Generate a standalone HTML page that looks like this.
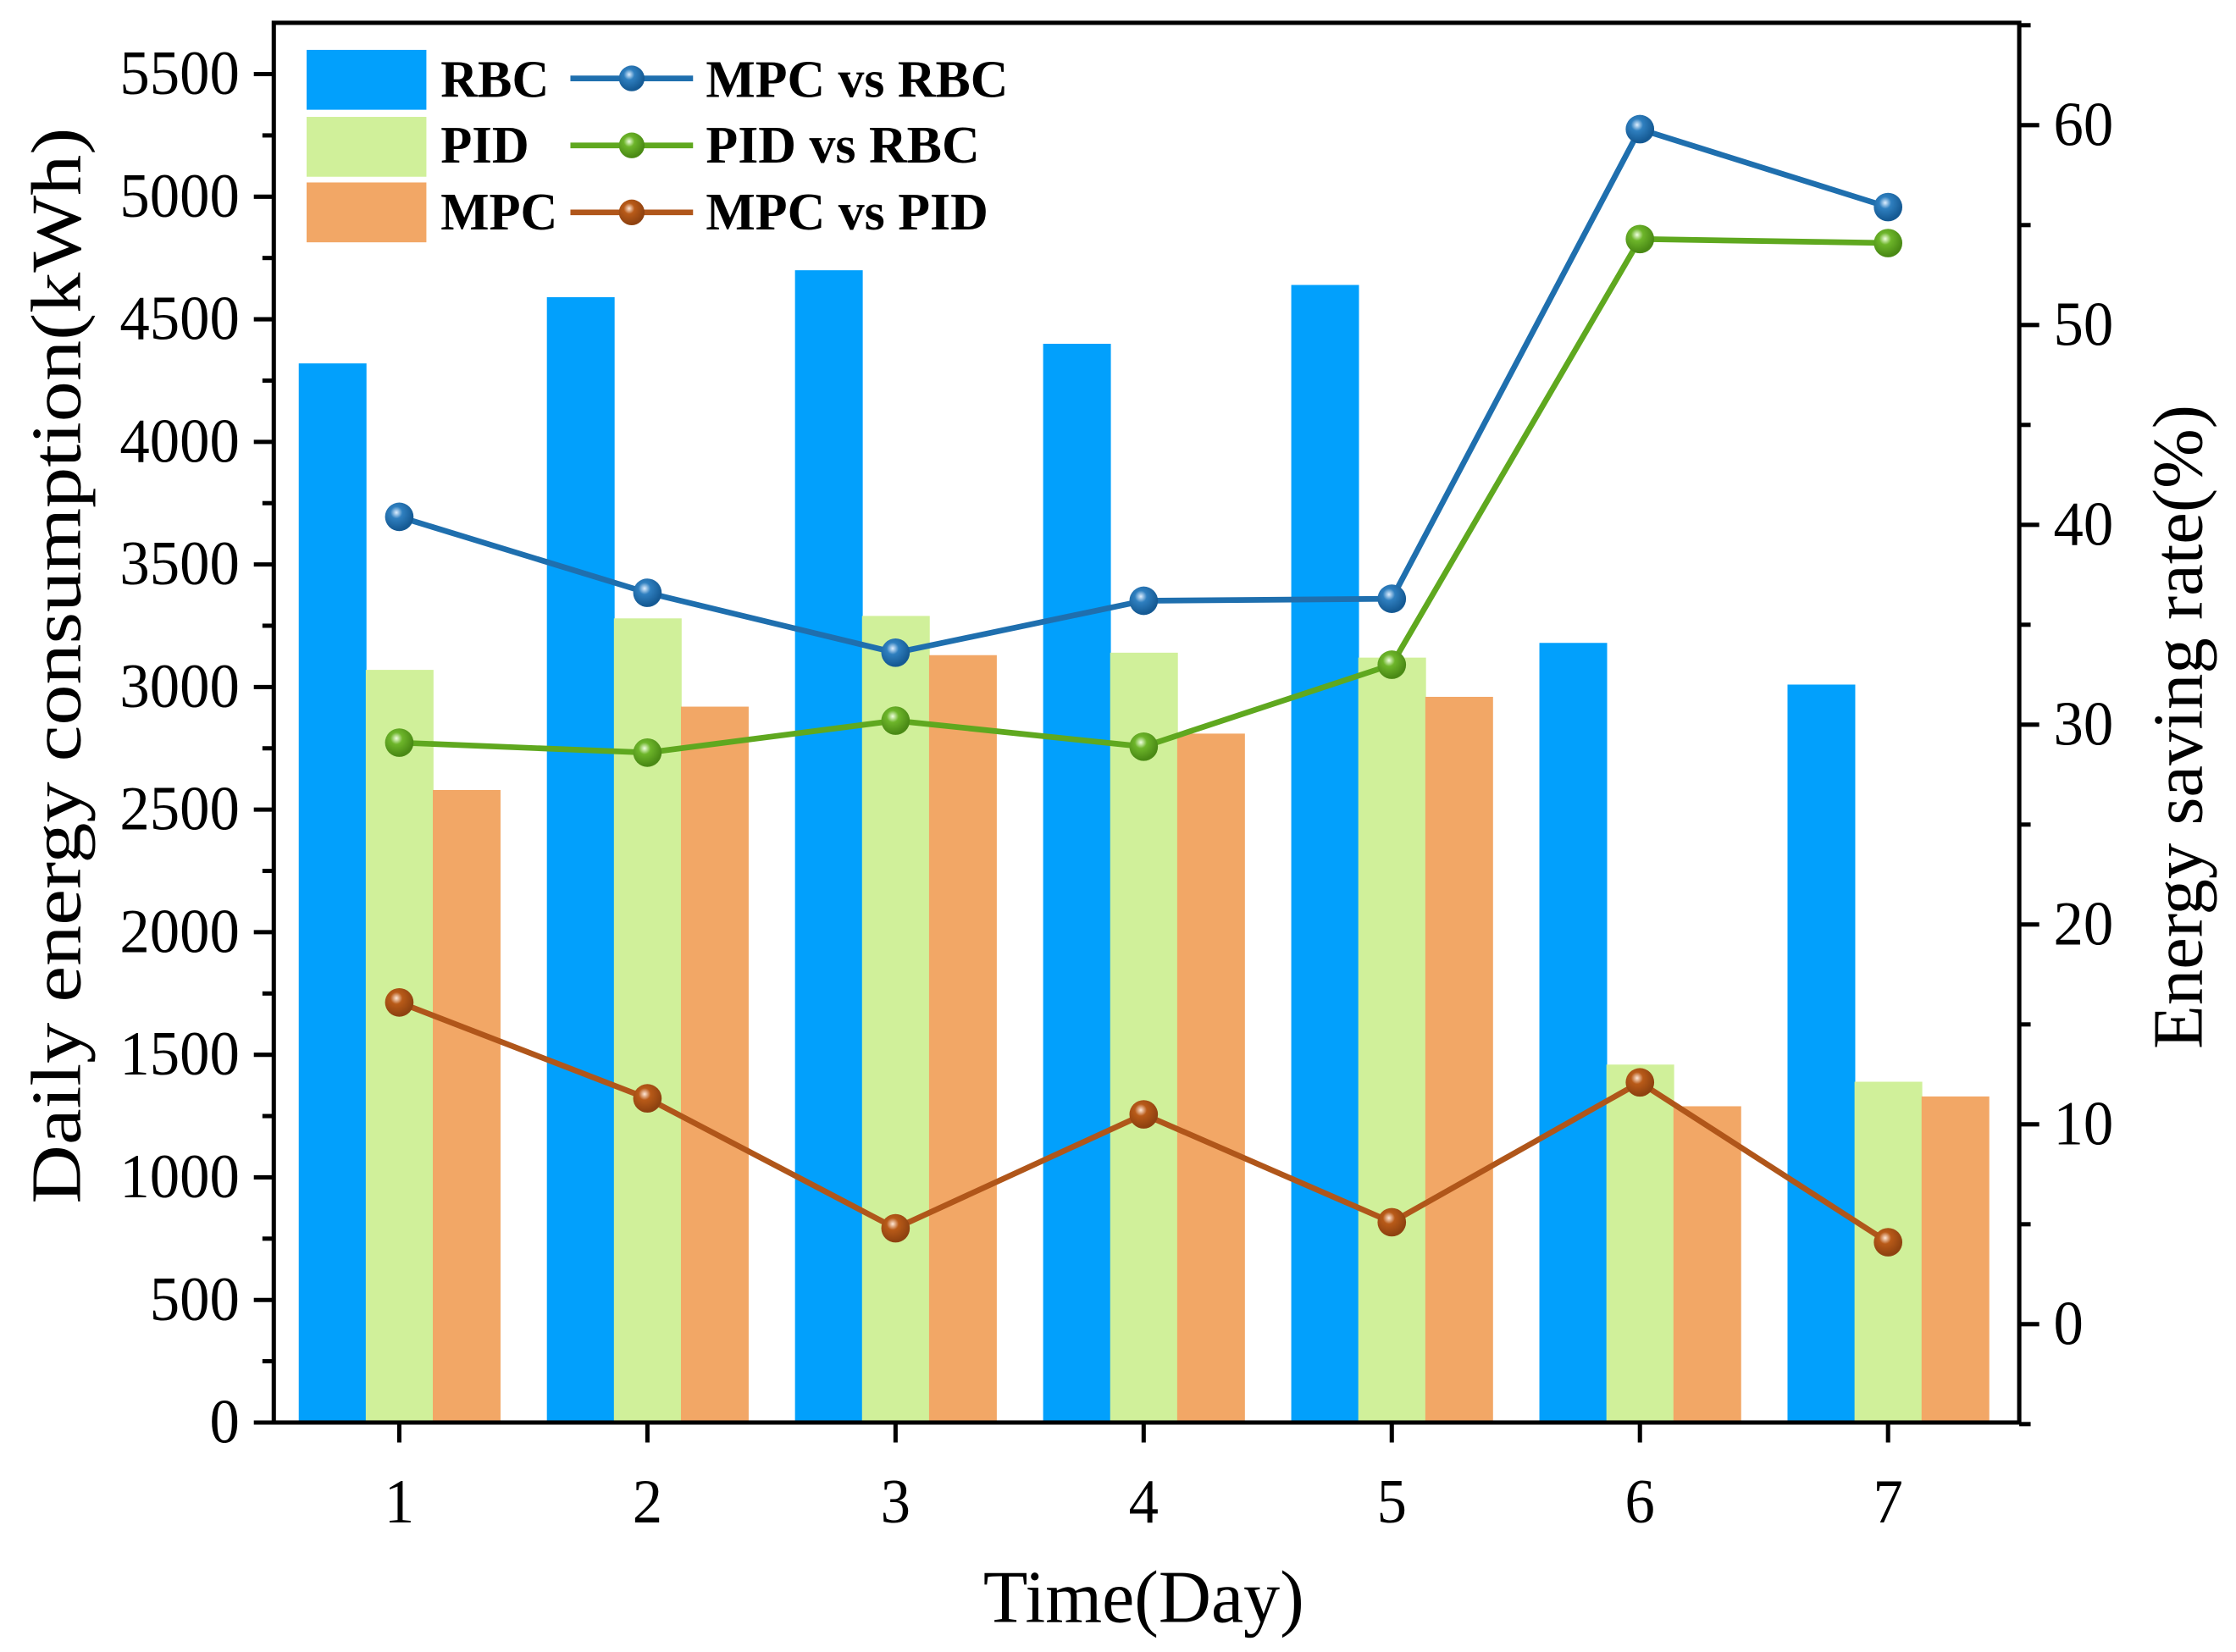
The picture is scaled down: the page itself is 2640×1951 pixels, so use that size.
<!DOCTYPE html>
<html><head><meta charset="utf-8"><style>
html,body{margin:0;padding:0;background:#fff;}
svg{display:block;}
text{font-family:"Liberation Serif",serif;fill:#000;}
</style></head><body>
<svg id="chart" width="2640" height="1951" viewBox="0 0 1568 1159" preserveAspectRatio="none" xmlns="http://www.w3.org/2000/svg">
<defs>
<radialGradient id="gb" cx="0.4" cy="0.35" r="0.6"><stop offset="0" stop-color="#dfefff"/><stop offset="0.35" stop-color="#2f7fbf"/><stop offset="1" stop-color="#155a94"/></radialGradient>
<radialGradient id="gg" cx="0.4" cy="0.35" r="0.6"><stop offset="0" stop-color="#f0ffe0"/><stop offset="0.35" stop-color="#6db52a"/><stop offset="1" stop-color="#4a8a15"/></radialGradient>
<radialGradient id="go" cx="0.4" cy="0.35" r="0.6"><stop offset="0" stop-color="#ffe8d8"/><stop offset="0.35" stop-color="#b85a18"/><stop offset="1" stop-color="#8f4210"/></radialGradient>
</defs>
<g id="bars"></g>
<g id="lines"></g>
<g id="axes"></g>
<g id="legend">
  <rect x="215" y="35" width="84" height="42" fill="#02a0fc"/>
  <rect x="215" y="82" width="84" height="42" fill="#d0f09a"/>
  <rect x="215" y="128" width="84" height="42" fill="#f2a766"/>
  <text x="309" y="68" font-size="37" font-weight="bold" textLength="76" lengthAdjust="spacingAndGlyphs">RBC</text>
  <text x="309" y="114" font-size="37" font-weight="bold" textLength="62" lengthAdjust="spacingAndGlyphs">PID</text>
  <text x="309" y="161" font-size="37" font-weight="bold" textLength="82" lengthAdjust="spacingAndGlyphs">MPC</text>
  <line x1="400" y1="55" x2="486" y2="55" stroke="#1f6fae" stroke-width="4"/>
  <circle cx="443" cy="55" r="9" fill="url(#gb)"/>
  <line x1="400" y1="102" x2="486" y2="102" stroke="#5fa81f" stroke-width="4"/>
  <circle cx="443" cy="102" r="9" fill="url(#gg)"/>
  <line x1="400" y1="149" x2="486" y2="149" stroke="#b0561a" stroke-width="4"/>
  <circle cx="443" cy="149" r="9" fill="url(#go)"/>
  <text x="495" y="68" font-size="37" font-weight="bold" textLength="212" lengthAdjust="spacingAndGlyphs">MPC vs RBC</text>
  <text x="495" y="114" font-size="37" font-weight="bold" textLength="192" lengthAdjust="spacingAndGlyphs">PID vs RBC</text>
  <text x="495" y="161" font-size="37" font-weight="bold" textLength="198" lengthAdjust="spacingAndGlyphs">MPC vs PID</text>
</g>
<text x="802" y="1138" font-size="52" text-anchor="middle" textLength="225" lengthAdjust="spacingAndGlyphs">Time(Day)</text>
<text transform="translate(56,467) rotate(-90)" font-size="50" text-anchor="middle" textLength="755" lengthAdjust="spacingAndGlyphs">Daily energy consumption(kWh)</text>
<text transform="translate(1544,510) rotate(-90)" font-size="50" text-anchor="middle" textLength="452" lengthAdjust="spacingAndGlyphs">Energy saving rate(%)</text>
</svg>
<script>
const days = [1,2,3,4,5,6,7];
const rbc = [4320,4590,4700,4400,4640,3180,3010];
const pid = [3070,3280,3290,3140,3120,1460,1390];
const mpc = [2580,2920,3130,2810,2960,1290,1330];
const mpcVsRbc = [40.4,36.6,33.6,36.2,36.3,59.8,55.9];
const pidVsRbc = [29.1,28.6,30.2,28.9,33.0,54.3,54.1];
const mpcVsPid = [16.1,11.3,4.8,10.5,5.1,12.1,4.1];
const leftTicks = [0,500,1000,1500,2000,2500,3000,3500,4000,4500,5000,5500];
const rightTicks = [0,10,20,30,40,50,60];

const NS="http://www.w3.org/2000/svg";
const L=192,R=1416,T=16,B=998;
const xS=d=>280+(d-1)*174;
const yL=v=>998-v*(946/5500);
const yR=v=>929-v*14.02;
function mk(tag,attrs,parent){const e=document.createElementNS(NS,tag);for(const k in attrs)e.setAttribute(k,attrs[k]);parent.appendChild(e);return e;}
const gBars=document.getElementById('bars'),gLines=document.getElementById('lines'),gAx=document.getElementById('axes');
const bw=47;
const series=[[rbc,'#02a0fc',-47,'bar-rbc'],[pid,'#d0f09a',0,'bar-pid'],[mpc,'#f2a766',47,'bar-mpc']];
series.forEach(s=>{s[0].forEach((v,i)=>{
  const r=mk('rect',{x:xS(days[i])+s[2]-bw/2,y:yL(v),width:bw+0.5,height:yL(0)-yL(v),fill:s[1]},gBars);
  
  
});});
const lines=[[mpcVsRbc,'#1f6fae','url(#gb)','line-mpc-vs-rbc'],[pidVsRbc,'#5fa81f','url(#gg)','line-pid-vs-rbc'],[mpcVsPid,'#b0561a','url(#go)','line-mpc-vs-pid']];
lines.forEach(l=>{
  const p=mk('polyline',{points:l[0].map((v,i)=>xS(days[i])+','+yR(v)).join(' '),fill:'none',stroke:l[1],'stroke-width':4},gLines);
  
  
  l[0].forEach((v,i)=>{
    const c=mk('circle',{cx:xS(days[i]),cy:yR(v),r:10,fill:l[2]},gLines);
    
    
  });
});
const fr=mk('rect',{x:L,y:T,width:R-L,height:B-T,fill:'none',stroke:'#000','stroke-width':3},gAx);


for(let v=0;v<=5500;v+=250){const maj=v%500===0;mk('line',{x1:L-(maj?14:8),x2:L,y1:yL(v),y2:yL(v),stroke:'#000','stroke-width':3},gAx);}
leftTicks.forEach(v=>{const s=String(v);const t=mk('text',{x:168,y:yL(v)+14,'font-size':44,'text-anchor':'end',textLength:s.length*21,lengthAdjust:'spacingAndGlyphs'},gAx);t.textContent=s;
  
  });
for(let v=-5;v<=65;v+=5){const maj=v%10===0;mk('line',{x1:R,x2:R+(maj?14:8),y1:yR(v),y2:yR(v),stroke:'#000','stroke-width':3},gAx);}
rightTicks.forEach(v=>{const s=String(v);const t=mk('text',{x:1440,y:yR(v)+14,'font-size':44,textLength:s.length*21,lengthAdjust:'spacingAndGlyphs'},gAx);t.textContent=s;
  
  });
days.forEach(d=>{mk('line',{x1:xS(d),x2:xS(d),y1:B,y2:B+14,stroke:'#000','stroke-width':3},gAx);
  const t=mk('text',{x:xS(d),y:1068,'font-size':44,'text-anchor':'middle',textLength:21,lengthAdjust:'spacingAndGlyphs'},gAx);t.textContent=d;
  
  });
</script>
</body></html>
